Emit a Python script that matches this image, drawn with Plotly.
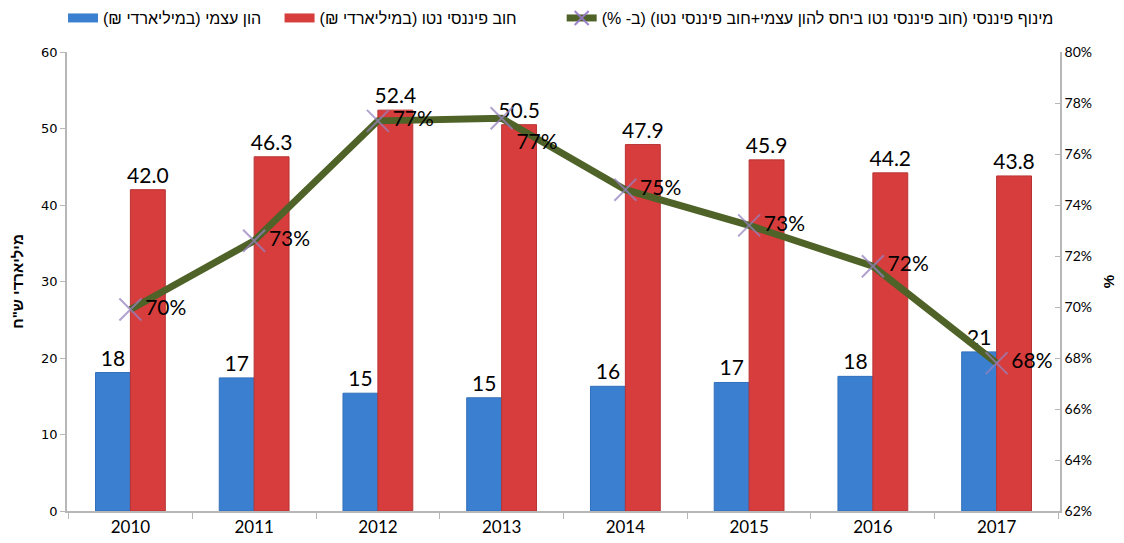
import plotly.graph_objects as go

years = ["2010", "2011", "2012", "2013", "2014", "2015", "2016", "2017"]
equity = [18.1, 17.4, 15.4, 14.8, 16.3, 16.8, 17.6, 20.8]
net_debt = [42.0, 46.3, 52.4, 50.5, 47.9, 45.9, 44.2, 43.8]
leverage = [69.9, 72.6, 77.3, 77.4, 74.6, 73.2, 71.6, 67.8]
leverage_pos = ["middle right", "middle right", "middle right", "bottom right",
                "middle right", "middle right", "middle right", "middle right"]

RLM = "\u200f"
NBSP = "\u00a0"
name_equity = RLM + "הון עצמי (במיליארדי ₪)" + RLM
name_debt = RLM + "חוב פיננסי נטו (במיליארדי ₪)" + RLM
name_lev = RLM + "מינוף פיננסי (חוב פיננסי נטו ביחס להון עצמי+חוב פיננסי נטו) (ב- %)" + RLM
ytitle = RLM + "מיליארדי ש\"ח" + RLM

blue = "#3b7fd0"
red = "#d83d3d"
green = "#4f6228"

label_font = dict(family="Lato, Open Sans, sans-serif", size=21, color="#000000")
axis_grey = "#b7b7b7"

fig = go.Figure()
fig.add_trace(go.Bar(
    x=years, y=equity, name=name_equity, showlegend=False,
    marker=dict(color=blue, line=dict(color="#3270bb", width=1)),
    text=equity, texttemplate="%{y:.0f}", textposition="outside",
    constraintext="none", textfont=label_font, cliponaxis=False,
))
fig.add_trace(go.Bar(
    x=years, y=net_debt, name=name_debt, showlegend=False,
    marker=dict(color=red, line=dict(color="#b83434", width=1)),
    text=net_debt, texttemplate="%{y:.1f}", textposition="outside",
    constraintext="none", textfont=label_font, cliponaxis=False,
))
fig.add_trace(go.Scatter(
    x=years, y=leverage, name=name_lev, yaxis="y2", showlegend=False,
    mode="lines+markers+text",
    line=dict(color=green, width=7),
    marker=dict(symbol="x-thin", size=22, color="rgba(160,140,200,0.75)",
                line=dict(color="rgba(150,130,190,0.75)", width=2)),
    text=leverage, texttemplate="%{y:.0f}%", textposition=leverage_pos,
    textfont=label_font, cliponaxis=False,
))

# legend entries (wide swatches like the original)
fig.add_trace(go.Scatter(x=[None], y=[None], name=name_equity + NBSP * 3, mode="lines",
                         line=dict(color=blue, width=9)))
fig.add_trace(go.Scatter(x=[None], y=[None], name=name_debt + NBSP * 9, mode="lines",
                         line=dict(color=red, width=9)))
fig.add_trace(go.Scatter(x=[None], y=[None], name=name_lev, mode="lines+markers",
                         line=dict(color=green, width=7),
                         marker=dict(symbol="x-thin", size=14, color="rgba(150,120,200,0.9)",
                                     line=dict(color="rgba(150,120,200,0.9)", width=2))))

fig.update_layout(
    width=1116, height=535,
    margin=dict(l=59, r=64, t=44, b=32, autoexpand=False),
    paper_bgcolor="white", plot_bgcolor="white",
    barmode="group", bargap=0.436, bargroupgap=0,
    font=dict(family="Liberation Sans, Arial, DejaVu Sans", size=13, color="#000"),
    legend=dict(orientation="h", yref="paper",
                x=-0.004, y=1.111, xanchor="left", yanchor="top",
                font=dict(family="Liberation Sans, Arial, DejaVu Sans", size=16),
                traceorder="normal", itemwidth=30),
    xaxis=dict(
        type="category", showline=True, linecolor=axis_grey, linewidth=1.5,
        ticks="outside", tickson="boundaries", ticklen=6, tickcolor=axis_grey,
        tickfont=dict(family="Lato, Open Sans, sans-serif", size=17),
        showgrid=False, zeroline=False, automargin=False,
    ),
    yaxis=dict(
        range=[0, 60], dtick=10, showline=True, linecolor=axis_grey, linewidth=1.5,
        ticks="outside", ticklen=5, tickcolor=axis_grey, showgrid=False, zeroline=False,
        tickfont=dict(family="DejaVu Sans", size=13), automargin=False,
        title=dict(text=ytitle, font=dict(size=15, family="Liberation Sans, Arial", weight="bold"),
                   standoff=14),
    ),
    yaxis2=dict(
        range=[62, 80], dtick=2, ticksuffix="%", overlaying="y", side="right",
        showline=True, linecolor=axis_grey, linewidth=1.5, automargin=False,
        ticks="inside", ticklen=5, tickcolor=axis_grey, showgrid=False, zeroline=False,
        tickfont=dict(family="Lato, Open Sans, sans-serif", size=14),
        title=dict(text="%", font=dict(size=15, family="Liberation Sans, Arial", weight="bold"),
                   standoff=12),
    ),
)

fig.write_html("out.html")
